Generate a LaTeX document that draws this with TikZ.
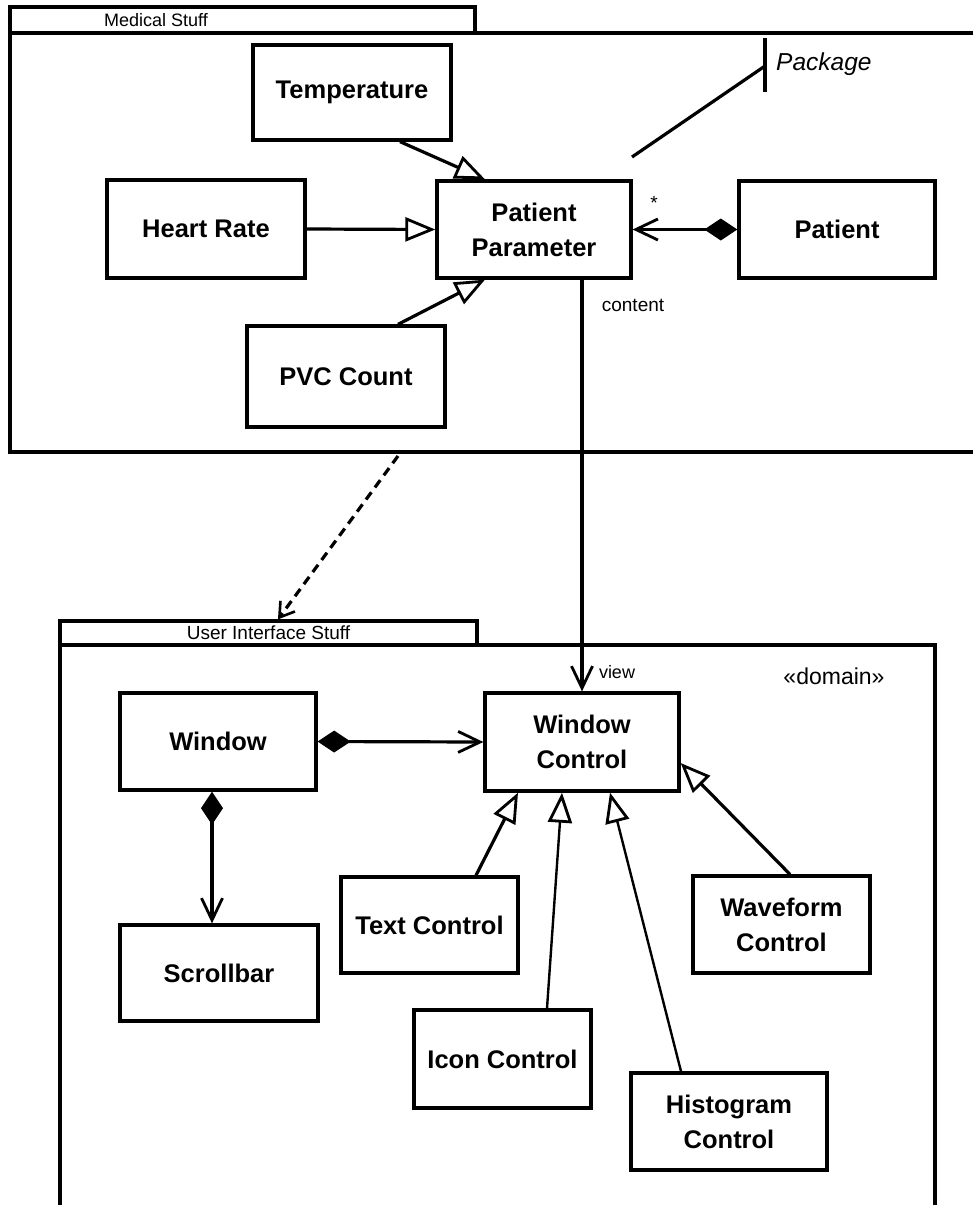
\documentclass[tikz,border=0pt]{standalone}
\usepackage{fontspec}
\setmainfont{Liberation Sans}
\usetikzlibrary{arrows.meta}
\tikzset{
  umlbox/.style={draw, line width=3.3pt, fill=white, align=center, inner sep=2pt,
    font=\fontsize{25.5}{35}\selectfont\bfseries},
  pkgline/.style={line width=3.3pt},
  conn/.style={line width=3.2pt},
  gen/.style={conn, -{Triangle[open,length=30pt,width=24pt,line width=2.8pt]}},
  nav/.style={conn, -{Straight Barb[length=22pt,width=21pt,line width=2.8pt]}},
  comp/.style={conn, {Diamond[length=33pt,width=22pt]}-{Straight Barb[length=22pt,width=21pt,line width=2.8pt]}},
  small/.style={font=\fontsize{19}{21}\selectfont, inner sep=0pt}
}
\begin{document}
\begin{tikzpicture}[x=1pt,y=-1pt]
\useasboundingbox[fill=white] (0,0) rectangle (973,1205);

% ---- Medical Stuff package
\node[draw, pkgline, minimum width=465, minimum height=26, inner sep=0] (medtab) at (242.5,20) {};
\node[small, font=\fontsize{18}{20}\selectfont] (medlabel) at (156,20) {Medical Stuff};
\draw[pkgline] (990,33) -- (10,33) -- (10,452) -- (990,452);

% classes
\node[umlbox, minimum width=198, minimum height=95] (temp) at (352,92.5) {Temperature};
\node[umlbox, minimum width=198, minimum height=98] (heart) at (206,229) {Heart Rate};
\node[umlbox, minimum width=194, minimum height=97] (pp) at (534,229.5) {Patient\\Parameter};
\node[umlbox, minimum width=196, minimum height=97] (patient) at (837,229.5) {Patient};
\node[umlbox, minimum width=198, minimum height=101] (pvc) at (346,376.5) {PVC Count};

\draw[gen] ([xshift=48pt]temp.south) -- ([xshift=-49pt]pp.north);
\draw[gen] (heart.east) -- (pp.west);
\draw[gen] ([xshift=52pt]pvc.north) -- ([xshift=-49pt]pp.south);
\draw[comp] (patient.west) -- (pp.east);
\node[small] (mult) at (654,203) {*};

% note "Package"
\coordinate (noteEnd) at (632,157);
\coordinate (barTop) at (765,38);
\coordinate (barMid) at (765,66);
\coordinate (barBot) at (765,92);
\draw[conn] (barTop) -- (barBot);
\draw[conn] (noteEnd) -- (barMid);
\node[anchor=west, inner sep=0, font=\fontsize{24.5}{26}\selectfont\itshape] (pkglabel) at (776,64) {Package};

% ---- User Interface Stuff package
\node[draw, pkgline, minimum width=417, minimum height=24, inner sep=0,
      font=\fontsize{19}{21}\selectfont] (uitab) at (268.5,633) {User Interface Stuff};
\draw[pkgline] (60,1215) -- (60,645) -- (935,645) -- (935,1215);
\node[small, font=\fontsize{23}{25}\selectfont] (domain) at (834,676) {«domain»};

\node[umlbox, minimum width=196, minimum height=97] (win) at (218,741.5) {Window};
\node[umlbox, minimum width=194, minimum height=98] (wc) at (582,742) {Window\\Control};
\node[umlbox, minimum width=198, minimum height=96] (scroll) at (219,973) {Scrollbar};
\node[umlbox, minimum width=177, minimum height=96] (tc) at (429.5,925) {Text Control};
\node[umlbox, minimum width=177, minimum height=97] (wave) at (781.5,924.5) {Waveform\\Control};
\node[umlbox, minimum width=177, minimum height=98] (icon) at (502.5,1059) {Icon Control};
\node[umlbox, minimum width=196, minimum height=97] (hist) at (729,1121.5) {Histogram\\Control};

\draw[comp] (win.east) -- (wc.west);
\draw[comp] ([xshift=-6pt]win.south) -- ([xshift=-7pt]scroll.north);
\draw[gen] ([xshift=46.5pt]tc.north) -- ([xshift=-64pt]wc.south);
\draw[gen, line width=2.4pt] ([xshift=44.5pt]icon.north) -- ([xshift=-20pt]wc.south);
\draw[gen, line width=2.4pt] ([xshift=-48pt]hist.north) -- ([xshift=28pt]wc.south);
\draw[gen] ([xshift=8.5pt]wave.north) -- ([yshift=-21pt]wc.east);

% cross-package links
\draw[nav] (pp.south -| wc.north) -- (wc.north);
\node[small] (contentlbl) at (633,305) {content};
\node[small, font=\fontsize{18}{20}\selectfont] (viewlbl) at (617,672) {view};

\coordinate (depStart) at (398,456);
\draw[conn, dash pattern=on 9pt off 6pt, -{Straight Barb[length=14pt,width=18pt,line width=2.6pt]}]
  (depStart) -- ([xshift=9.5pt]uitab.north);
\end{tikzpicture}
\end{document}
